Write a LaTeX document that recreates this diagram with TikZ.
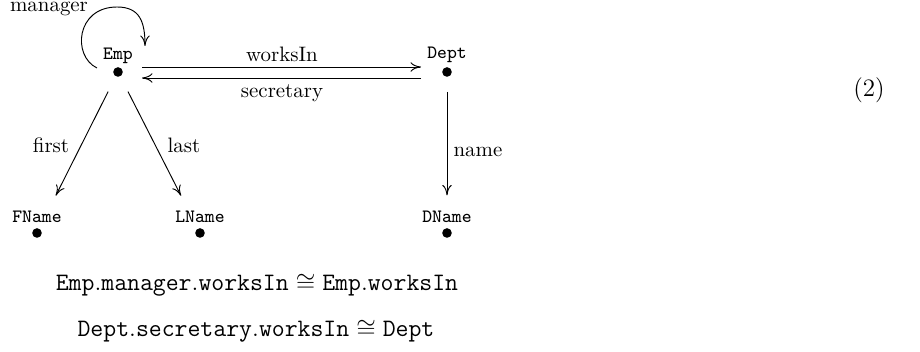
\documentclass[tikz,border=0pt]{standalone}
\usetikzlibrary{arrows.meta}
\begin{document}
\begin{tikzpicture}[x=0.4785pt,y=-0.4785pt,
  lab/.style={inner sep=0pt,font=\fontsize{9}{11}\selectfont\ttfamily},
  dotn/.style={circle,fill=black,inner sep=0pt,minimum size=4.6pt},
  elab/.style={inner sep=0pt,font=\normalsize},
  arr/.style={line width=0.45pt,-{Computer Modern Rightarrow[length=5pt,width=4.5pt]}},
  eqn/.style={inner sep=0pt,font=\large}]
\useasboundingbox (0,0) rectangle (920,352);
% objects
\node[lab] (Emp) at (118,56) {Emp};
\node[dotn] (Empd) at (118,72) {};
\node[lab] (Dept) at (447,55) {Dept};
\node[dotn] (Deptd) at (447,72) {};
\node[lab] (FName) at (37,217) {FName};
\node[dotn] (FNamed) at (37,233) {};
\node[lab] (LName) at (200,217) {LName};
\node[dotn] (LNamed) at (200,233) {};
\node[lab] (DName) at (447,217) {DName};
\node[dotn] (DNamed) at (447,233) {};
% helper coordinates for parallel arrows
\coordinate (EmpTop) at (142,67);
\coordinate (DeptTop) at (421,67);
\coordinate (EmpBot) at (142,78);
\coordinate (DeptBot) at (421,78);
\coordinate (loopS) at (97,68);
\coordinate (loopE) at (145,46);
% arrows
\draw[arr] (EmpTop) -- (DeptTop);
\draw[arr] (DeptBot) -- (EmpBot);
\draw[arr,shorten <=8pt,shorten >=17.5pt] (Empd) -- (FNamed);
\draw[arr,shorten <=8pt,shorten >=17.5pt] (Empd) -- (LNamed);
\draw[arr,shorten <=7pt,shorten >=15.5pt] (Deptd) -- (DNamed);
\draw[arr] (loopS) .. controls (72,56) and (76,7) .. (117,7) .. controls (140,7) and (145,22) .. (loopE);
% edge labels
\node[elab] (lwork) at (282,54) {worksIn};
\node[elab] (lsec) at (282,93) {secretary};
\node[elab] (lman) at (49,9) {manager};
\node[elab] (lfirst) at (51,145) {first};
\node[elab] (llast) at (184,145) {last};
\node[elab] (lname) at (478,152) {name};
% equations
\node[eqn] (eq1) at (257,285) {$\mathtt{Emp.manager.worksIn}\cong\mathtt{Emp.worksIn}$};
\node[eqn] (eq2) at (256,331) {$\mathtt{Dept.secretary.worksIn}\cong\mathtt{Dept}$};
\node[eqn] (eqno) at (869,90) {(2)};
\end{tikzpicture}
\end{document}
